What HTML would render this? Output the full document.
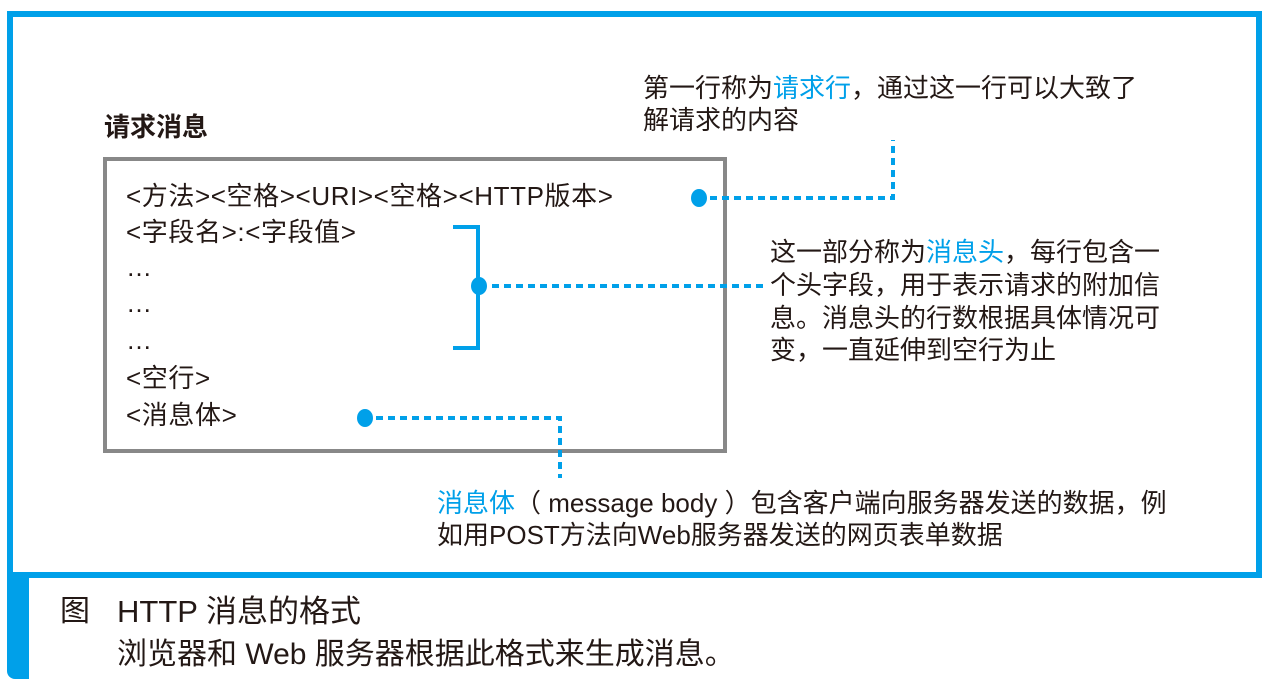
<!DOCTYPE html>
<html><head><meta charset="utf-8"><style>
body{margin:0;width:1268px;height:688px;background:#fff;position:relative;overflow:hidden;font-family:"Liberation Sans","Noto Sans CJK SC",sans-serif;color:#231815}
.a{position:absolute;white-space:nowrap}
.t{font-size:26px;line-height:26px}
.bx{letter-spacing:0.6px}
.b{color:#00a0e9}
</style></head><body>
<div class="a" style="left:7px;top:11px;width:1243px;height:555px;border:6px solid #00a0e9"></div>
<div class="a" style="left:7px;top:578px;width:22px;height:101px;background:#00a0e9;border-radius:0 0 0 8px"></div>
<div class="a" style="left:103px;top:157px;width:616px;height:288px;border:4px solid #888"></div>
<div class="a t" style="left:104px;top:114px;font-weight:bold">请求消息</div>
<div class="a t bx" style="left:126px;top:183px">&lt;方法&gt;&lt;空格&gt;&lt;URI&gt;&lt;空格&gt;&lt;HTTP版本&gt;</div>
<div class="a t bx" style="left:126px;top:219px">&lt;字段名&gt;:&lt;字段值&gt;</div>
<div class="a t" style="left:126px;top:254px">…</div>
<div class="a t" style="left:126px;top:290px">…</div>
<div class="a t" style="left:126px;top:327px">…</div>
<div class="a t bx" style="left:126px;top:365px">&lt;空行&gt;</div>
<div class="a t bx" style="left:126px;top:402px">&lt;消息体&gt;</div>
<svg class="a" style="left:0;top:0" width="1268" height="688">
<g fill="#00a0e9"><ellipse cx="699" cy="198" rx="8" ry="9"/><ellipse cx="479" cy="286" rx="8" ry="9"/><ellipse cx="365" cy="418" rx="8" ry="9"/></g>
<g stroke="#00a0e9" stroke-width="4" fill="none">
<path d="M453 227H478V348H453"/>
<g stroke-dasharray="7,5"><path d="M710 198H893V140"/><path d="M492 286H765"/><path d="M376 418H560V478"/></g>
</g></svg>
<div class="a t" style="left:643px;top:75px">第一行称为<span class="b">请求行</span>，通过这一行可以大致了</div>
<div class="a t" style="left:643px;top:107px">解请求的内容</div>
<div class="a t" style="left:770px;top:239px">这一部分称为<span class="b">消息头</span>，每行包含一</div>
<div class="a t" style="left:770px;top:272px">个头字段，用于表示请求的附加信</div>
<div class="a t" style="left:770px;top:305px">息。消息头的行数根据具体情况可</div>
<div class="a t" style="left:770px;top:337px">变，一直延伸到空行为止</div>
<div class="a t" style="left:437px;top:490px"><span class="b">消息体</span>（ message body ）包含客户端向服务器发送的数据，例</div>
<div class="a t" style="left:437px;top:522px">如用POST方法向Web服务器发送的网页表单数据</div>
<div class="a" style="left:60px;top:597px;font-size:30px;line-height:30px">图</div>
<div class="a" style="left:117px;top:597px;font-size:31px;line-height:30px">HTTP 消息的格式</div>
<div class="a" style="left:117px;top:640px;font-size:30px;line-height:30px">浏览器和 Web 服务器根据此格式来生成消息。</div>
</body></html>
